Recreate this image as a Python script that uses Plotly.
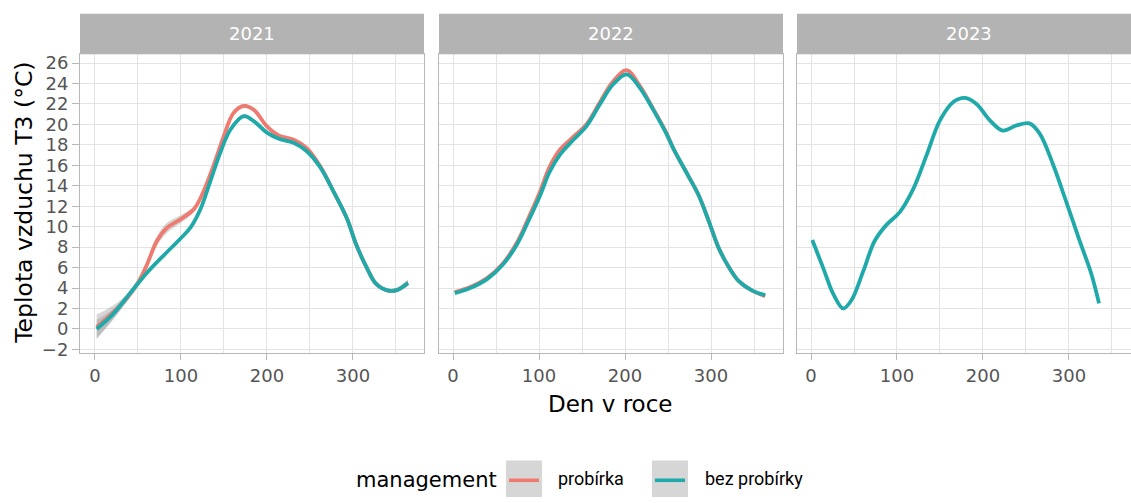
import plotly.graph_objects as go

# ---------------- data ----------------
years = ["2021", "2022", "2023"]
series_names = ["probírka", "bez probírky"]

# 2021
day_2021_bez = [2, 21, 41, 60, 80, 99, 111, 122.6, 134, 146, 157.6, 173, 185, 200, 214, 231, 246, 262, 277, 293, 304, 316, 327, 341, 351, 364]
val_2021_bez = [0.0, 1.45, 3.5, 5.45, 7.2, 8.8, 9.9, 11.7, 14.4, 17.3, 19.5, 20.8, 20.3, 19.2, 18.6, 18.2, 17.4, 15.8, 13.5, 10.8, 8.2, 6.0, 4.4, 3.75, 3.8, 4.5]
se_2021_bez = [0.9, 0.5, 0.3, 0.2, 0.2, 0.2, 0.2, 0.2, 0.2, 0.2, 0.2, 0.2, 0.2, 0.2, 0.2, 0.2, 0.2, 0.2, 0.2, 0.2, 0.2, 0.2, 0.2, 0.2, 0.2, 0.3]
day_2021_pro = [2, 21, 37, 50.6, 60, 72, 84, 99, 115, 126, 138, 150, 161, 173, 185, 200, 214, 231, 246, 262, 277, 293, 304, 316, 327, 341, 351, 364]
val_2021_pro = [0.2, 1.6, 3.0, 4.6, 6.2, 8.6, 9.9, 10.7, 11.7, 13.4, 16.0, 18.9, 21.1, 21.8, 21.4, 19.8, 18.9, 18.5, 17.7, 15.9, 13.5, 10.8, 8.2, 6.0, 4.4, 3.75, 3.8, 4.5]
se_2021_pro = [1.2, 0.7, 0.4, 0.4, 0.4, 0.5, 0.5, 0.4, 0.3, 0.3, 0.2, 0.2, 0.2, 0.2, 0.2, 0.2, 0.2, 0.2, 0.2, 0.2, 0.2, 0.2, 0.2, 0.2, 0.2, 0.2, 0.2, 0.3]

# 2022
day_2022 = [2, 20, 40, 58, 74, 89, 101, 112, 124, 140, 155, 171, 186, 202, 217, 233, 248, 257, 274, 286, 298, 309, 321, 332, 348, 363]
val_2022_bez = [3.5, 4.0, 4.9, 6.3, 8.2, 10.8, 13.0, 15.3, 17.0, 18.5, 19.8, 22.0, 23.9, 24.9, 23.6, 21.4, 19.1, 17.5, 14.9, 13.0, 10.4, 7.9, 6.0, 4.7, 3.75, 3.3]
val_2022_pro = [3.6, 4.1, 5.0, 6.4, 8.4, 11.1, 13.4, 15.8, 17.5, 18.8, 20.0, 22.2, 24.2, 25.3, 23.8, 21.5, 19.2, 17.5, 14.9, 13.0, 10.4, 7.9, 6.0, 4.7, 3.75, 3.2]

# 2023 (only "bez probírky")
day_2023 = [1.5, 14, 26, 37.5, 47, 61, 74, 88, 103, 119, 134, 150, 165.5, 179, 192.5, 208, 223, 239, 254, 266, 281, 297, 312.5, 326, 335]
val_2023_bez = [8.7, 6.0, 3.4, 2.0, 2.8, 5.7, 8.6, 10.2, 11.4, 13.7, 16.9, 20.4, 22.2, 22.6, 22.0, 20.4, 19.4, 19.9, 20.1, 19.1, 16.2, 12.4, 8.6, 5.4, 2.5]

y_ticks = list(range(-2, 27, 2))
x_ticks = [0, 100, 200, 300]
x_minor = [50, 150, 250, 350]

# ---------------- styling ----------------
COL_PRO = "#EE7A70"
COL_BEZ = "#1FA9A9"
GRID = "#E3E3E3"
BORDER = "#B8B8B8"
STRIP = "#B3B3B3"
TICKCOL = "#555555"
FONT = "DejaVu Sans, Liberation Sans, Arial, sans-serif"

W, H = 1131, 503
def px_x(p):
    return p / W
def px_y(p):
    return 1 - p / H

panels = [(80, 424), (439, 783), (797, 1131)]
xr = [[-17.4, 382.6], [-16.3, 383.7], [-16.3, 372.2]]
y_bot, y_top = 357, 53
yrange = [-2.385, 26.87]

fig = go.Figure()

def ribbon(x, y, se, xa, ya):
    upper = [a + b for a, b in zip(y, se)]
    lower = [a - b for a, b in zip(y, se)]
    fig.add_trace(go.Scatter(x=x, y=upper, mode="lines", line=dict(width=0, shape="spline"),
                             xaxis=xa, yaxis=ya, showlegend=False, hoverinfo="skip"))
    fig.add_trace(go.Scatter(x=x, y=lower, mode="lines", line=dict(width=0, shape="spline"),
                             fill="tonexty", fillcolor="rgba(153,153,153,0.4)",
                             xaxis=xa, yaxis=ya, showlegend=False, hoverinfo="skip"))

def line(x, y, color, name, xa, ya):
    fig.add_trace(go.Scatter(x=x, y=y, mode="lines", name=name,
                             line=dict(color=color, width=3.8, shape="spline", smoothing=1.0),
                             xaxis=xa, yaxis=ya, showlegend=False))

# 2021
ribbon(day_2021_pro, val_2021_pro, se_2021_pro, "x", "y")
ribbon(day_2021_bez, val_2021_bez, se_2021_bez, "x", "y")
line(day_2021_pro, val_2021_pro, COL_PRO, series_names[0], "x", "y")
line(day_2021_bez, val_2021_bez, COL_BEZ, series_names[1], "x", "y")
# 2022
line(day_2022, val_2022_pro, COL_PRO, series_names[0], "x2", "y2")
line(day_2022, val_2022_bez, COL_BEZ, series_names[1], "x2", "y2")
# 2023
line(day_2023, val_2023_bez, COL_BEZ, series_names[1], "x3", "y3")

layout = dict(
    width=W, height=H,
    margin=dict(l=0, r=0, t=0, b=0),
    paper_bgcolor="white", plot_bgcolor="white",
    font=dict(family=FONT, color=TICKCOL),
    showlegend=False,
)

for i, ((a, b), rng) in enumerate(zip(panels, xr)):
    sx = "" if i == 0 else str(i + 1)
    layout["xaxis" + sx] = dict(
        domain=[px_x(a), px_x(b)], range=rng, anchor="y" + sx,
        tickvals=x_ticks, ticks="outside", ticklen=6, tickcolor=BORDER,
        tickfont=dict(size=18, color=TICKCOL, family=FONT),
        showgrid=True, gridcolor=GRID, gridwidth=1.2,
        minor=dict(tickvals=x_minor, showgrid=True, gridcolor=GRID, gridwidth=0.8, ticks=""),
        showline=True, linecolor=BORDER, linewidth=1, mirror=True, zeroline=False,
        fixedrange=True,
    )
    layout["yaxis" + sx] = dict(
        domain=[px_y(y_bot), px_y(y_top)], range=yrange, anchor="x" + sx,
        tickvals=y_ticks, showticklabels=(i == 0),
        ticks="outside" if i == 0 else "", ticklen=7, tickcolor=BORDER,
        tickfont=dict(size=18, color=TICKCOL, family=FONT),
        showgrid=True, gridcolor=GRID, gridwidth=1.2,
        showline=True, linecolor=BORDER, linewidth=1, mirror=(i < 2), zeroline=False,
        fixedrange=True,
    )

fig.update_layout(**layout)

shapes = []
annotations = []
# strips
for (a, b), yr in zip(panels, years):
    shapes.append(dict(type="rect", xref="paper", yref="paper",
                       x0=px_x(a), x1=px_x(b), y0=px_y(53), y1=px_y(12),
                       fillcolor=STRIP, line=dict(width=0), layer="above"))
    annotations.append(dict(text=yr, xref="paper", yref="paper",
                            x=px_x((a + b) / 2 if b < 1131 else (a + a + 344) / 2), y=px_y(32.5),
                            showarrow=False, font=dict(size=18, color="white", family=FONT),
                            xanchor="center", yanchor="middle"))

# axis titles
annotations.append(dict(text="Den v roce", xref="paper", yref="paper", x=px_x(610), y=px_y(408),
                        showarrow=False, font=dict(size=23, color="black", family=FONT),
                        xanchor="center", yanchor="middle"))
annotations.append(dict(text="Teplota vzduchu T3 (°C)", xref="paper", yref="paper",
                        x=px_x(24), y=px_y(204), textangle=-90,
                        showarrow=False, font=dict(size=23.5, color="black", family=FONT),
                        xanchor="center", yanchor="middle"))

# legend (manual)
leg_y = 486
annotations.append(dict(text="management", xref="paper", yref="paper", x=px_x(354), y=px_y(leg_y),
                        showarrow=False, font=dict(size=21, color="black", family=FONT),
                        xanchor="left", yanchor="middle"))
for (bx0, col, lbl, tx) in [(506, COL_PRO, series_names[0], 556), (652, COL_BEZ, series_names[1], 703)]:
    shapes.append(dict(type="rect", xref="paper", yref="paper",
                       x0=px_x(bx0), x1=px_x(bx0 + 36), y0=px_y(503), y1=px_y(466),
                       fillcolor="#D6D6D6", line=dict(width=0)))
    shapes.append(dict(type="line", xref="paper", yref="paper",
                       x0=px_x(bx0 + 3), x1=px_x(bx0 + 33), y0=px_y(leg_y), y1=px_y(leg_y),
                       line=dict(color=col, width=3.6)))
    annotations.append(dict(text=lbl, xref="paper", yref="paper", x=px_x(tx), y=px_y(leg_y - 2),
                            showarrow=False, font=dict(size=18, color="black", family="Roboto, Liberation Sans, sans-serif"),
                            xanchor="left", yanchor="middle"))

fig.update_layout(shapes=shapes, annotations=annotations)
fig.write_html("out.html", config={"displayModeBar": False},
               post_script="document.body.style.margin='0';document.body.style.overflow='hidden';")
